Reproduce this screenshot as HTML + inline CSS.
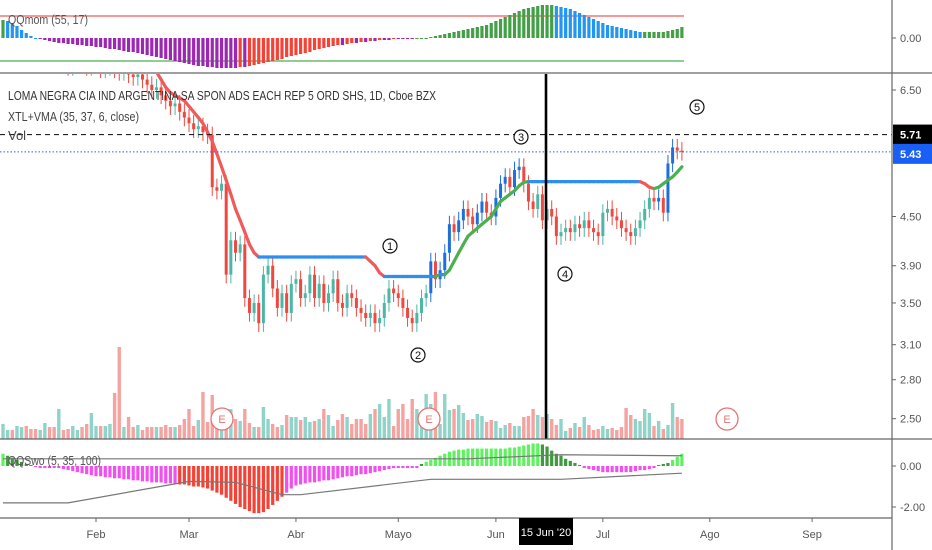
<!DOCTYPE html>
<html><head><meta charset="utf-8">
<style>
html,body{margin:0;padding:0;background:#fff;}
#wrap{position:relative;width:932px;height:550px;overflow:hidden;font-family:"Liberation Sans",sans-serif;}
svg text{font-family:"Liberation Sans",sans-serif;}
</style></head>
<body>
<div id="wrap">
<svg id="chart" width="932" height="550" xmlns="http://www.w3.org/2000/svg">
  <rect x="0" y="0" width="932" height="550" fill="#ffffff"/>
  <g id="momPane"></g>
  <g id="mainPane"></g>
  <g id="oscPane"></g>
  <g id="axes"></g>
</svg>
</div>
<script>
// ---- data ----
const closes = [7.2,7.3,7.1,7.2,7.3,7.2,7.1,7.0,7.1,7.2,7.1,7.0,7.1,7.0,6.95,7.0,7.1,7.0,6.95,7.0,
7.0,6.9,6.95,7.0,6.9,6.85,6.9,6.8,6.75,6.8,
6.7,6.6,6.5,6.55,6.4,6.3,6.2,6.25,6.1,6.0,
5.9,5.8,5.85,5.75,5.7,
4.9,4.85,4.95,3.8,4.2,4.05,4.15,3.55,3.4,3.5,3.3,3.8,3.9,3.65,3.45,3.6,3.4,3.7,3.75,3.55,3.6,3.8,3.55,3.7,3.5,3.6,3.75,3.5,3.45,3.6,3.55,3.45,3.4,3.35,3.4,3.3,3.35,3.5,3.65,3.6,3.55,3.45,3.35,3.3,3.4,3.55,3.6,3.95,3.75,3.85,4.05,4.4,4.3,4.45,4.6,4.5,4.4,4.55,4.7,4.55,4.5,4.75,4.95,5.05,4.9,5.15,5.2,4.95,4.7,4.6,4.8,4.45,4.6,4.5,4.25,4.3,4.35,4.3,4.4,4.35,4.45,4.35,4.3,4.25,4.55,4.6,4.5,4.45,4.35,4.3,4.25,4.35,4.45,4.6,4.75,4.7,4.75,4.55,5.25,5.5,5.45,5.43];

const trailStart = 32;
const trail = [6.95,6.85,6.7,6.55,6.45,6.4,6.35,6.3,6.2,6.1,6.0,5.9,5.75,5.6,5.4,5.2,5.0,4.8,4.6,4.45,4.3,4.15,4.05,
4.0,4.0,4.0,4.0,4.0,4.0,4.0,4.0,4.0,4.0,4.0,4.0,4.0,4.0,4.0,4.0,4.0,4.0,4.0,4.0,4.0,4.0,4.0,
4.0,3.95,3.9,3.82,3.78,
3.78,3.78,3.78,3.78,3.78,3.78,3.78,3.78,3.78,3.78,3.78,
3.8,3.8,3.85,3.95,4.05,4.15,4.25,4.3,4.35,4.4,4.45,4.5,4.6,4.7,4.75,4.8,4.85,4.92,4.97,
4.98,4.98,4.98,4.98,4.98,4.98,4.98,4.98,4.98,4.98,4.98,4.98,4.98,4.98,4.98,4.98,4.98,4.98,4.98,4.98,4.98,4.98,4.98,4.98,4.98,
4.95,4.9,4.88,4.9,
4.95,5.0,5.05,5.12,5.2];

const volumes = [15,9,9,13,12,13,10,10,9,16,12,12,30,9,10,13,9,12,15,26,13,
13,13,15,46,92,12,22,12,14,9,12,12,12,12,14,12,12,14,20,30,
13,19,47,17,44,20,14,15,30,20,18,30,16,12,12,32,20,15,12,14,
24,22,22,19,22,17,18,20,30,24,13,19,25,22,15,20,20,15,25,30,
35,22,40,13,30,35,20,40,30,20,45,35,47,15,45,29,30,34,26,19,
20,25,23,17,19,18,11,14,16,13,13,22,23,30,24,22,25,20,14,20,
8,11,16,12,22,14,9,10,13,10,11,9,12,31,24,20,18,30,26,13,18,10,14,36,22,20];

const momentum = [18,17,15,12,8,5,
2,0,-1,-2,-3,
-4,-5,-5,-6,-6,-7,-7,-8,-8,-9,-9,-10,-11,-11,-12,-13,-14,-14,-15,-16,-17,-18,-19,-20,-21,-22,-23,-24,-25,-26,-27,-28,-28,-29,-29,-30,-30,-30,-30,
-30,-29,-29,-28,-27,-26,-25,-24,-23,-22,-21,-19,-18,-17,-16,-15,-14,-12,-11,-10,-9,-8,-7,-7,-6,-5,-5,-4,-4,-3,-3,
-2,-2,-2,-1,-1,-1,-1,-1,0,0,0,1,
2,3,4,5,6,7,8,9,10,11,12,13,15,17,19,21,23,25,27,29,30,31,32,33,33,
33,32,31,30,29,27,25,23,21,19,17,15,13,12,11,10,9,8,7,6,6,6,6,6,6,7,8,9,11];

const osc = [0.6,0.5,0.4,0.3,0.2,0.1,0.05,-0.05,-0.1,-0.1,-0.1,-0.1,-0.1,-0.15,-0.2,
-0.25,-0.3,-0.35,-0.4,-0.45,-0.5,-0.5,-0.55,-0.55,-0.6,-0.6,-0.65,-0.65,-0.7,-0.7,-0.75,-0.75,-0.8,-0.8,-0.8,-0.85,-0.85,-0.85,-0.9,-0.9,
-0.95,-1.0,-1.0,-1.05,-1.1,-1.2,-1.3,-1.4,-1.55,-1.7,-1.85,-2.0,-2.1,-2.2,-2.3,-2.3,-2.25,
-2.1,-1.9,-1.7,-1.5,-1.3,-1.1,-0.95,-0.9,
-0.85,-0.8,-0.8,-0.75,-0.7,-0.7,-0.65,-0.6,-0.55,-0.5,-0.5,-0.45,-0.4,-0.4,-0.35,-0.3,-0.25,-0.2,-0.15,-0.1,-0.1,-0.1,-0.1,-0.1,-0.1,
0.1,0.2,0.3,0.4,
0.5,0.6,0.7,0.75,0.8,0.8,0.85,0.85,0.85,0.85,0.85,0.85,0.85,0.85,0.85,0.9,0.9,0.95,1.0,1.05,1.1,1.1,1.05,0.95,
0.75,0.6,0.5,0.35,0.25,0.15,0.05,
-0.1,-0.15,-0.2,-0.25,-0.3,-0.3,-0.3,-0.3,-0.3,-0.3,-0.3,-0.25,-0.2,-0.2,-0.15,-0.1,
0.05,0.1,0.15,0.3,0.45,0.6];

const oscUpperIdx = [0,100,120,146];
const oscUpperVal = [0.35,0.35,0.55,0.5];
const oscLowerIdx = [0,14,40,50,60,64,92,120,146];
const oscLowerVal = [-1.8,-1.8,-0.75,-0.8,-1.4,-1.4,-0.65,-0.65,-0.35];

const priceTicks = [6.50,4.50,3.90,3.50,3.10,2.80,2.50];
const monthLabels = ["Feb","Mar","Abr","Mayo","Jun","Jul","Ago","Sep"];
const monthBars = [20,40,63,85,106,129,152,174];

// ---- scales ----
const NS='http://www.w3.org/2000/svg';
const xBar = i => 3 + i*4.65;
const yPrice = p => 90 + (Math.log(6.5) - Math.log(p))*344;
const yMom = v => 38 - v;
const yOsc = v => 466 - v*20.5;
const yVol = v => 439 - v;

function mk(tag, attrs, parent){
  const el=document.createElementNS(NS,tag);
  for(const k in attrs) el.setAttribute(k,attrs[k]);
  parent.appendChild(el); return el;
}
function interp(ix,vals,i){
  for(let k=1;k<ix.length;k++){ if(i<=ix[k]){const f=(i-ix[k-1])/(ix[k]-ix[k-1]); return vals[k-1]+f*(vals[k]-vals[k-1]);} }
  return vals[vals.length-1];
}
const mom=document.getElementById('momPane');
const main=document.getElementById('mainPane');
const oscG=document.getElementById('oscPane');
const axes=document.getElementById('axes');

const defs=mk('defs',{},document.getElementById('chart'));
const cp=mk('clipPath',{id:'mainClip'},defs); mk('rect',{x:0,y:74,width:892,height:365},cp);
main.setAttribute('clip-path','url(#mainClip)');

// ---- momentum pane ----
let l=mk('line',{x1:0,x2:684,y1:16,y2:16,stroke:'#f05a5a','stroke-width':1.2},mom);
 
l=mk('line',{x1:0,x2:684,y1:61,y2:61,stroke:'#4caf50','stroke-width':1.2},mom);
 
momentum.forEach((v,i)=>{
  const prev = i>0?momentum[i-1]:v;
  let col;
  if(v>=0) col = v>=prev ? '#43a047' : '#2196f3';
  else col = v<=prev ? '#9c27b0' : '#f44336';
  const y0=yMom(0), y1=yMom(v);
  const r=mk('rect',{x:xBar(i)-1.6,y:Math.min(y0,y1),width:3.2,height:Math.max(1,Math.abs(y1-y0)),fill:col},mom);
   
});
let t=mk('text',{x:8,y:24,'font-size':13,fill:'#555',textLength:80,lengthAdjust:'spacingAndGlyphs'},mom); t.textContent='QQmom (55, 17)';
 

// ---- main pane: volume ----
volumes.forEach((v,i)=>{
  const up = i===0 ? true : closes[i]>=closes[i-1];
  const r=mk('rect',{x:xBar(i)-1.7,y:yVol(v),width:3.4,height:v,fill: up?'#8fd3c9':'#f5a3a0'},main);
   
});
// candles
closes.forEach((c,i)=>{
  const o = i===0 ? c : closes[i-1];
  const up = c>=o;
  const hi = Math.max(o,c)*1.025, lo=Math.min(o,c)*0.975;
  const col = up ? (i>=92 && i<=112 || i>=141 ? '#1e6fd9' : '#4db6a6') : '#f0473e';
  const x=xBar(i);
  const w=mk('line',{x1:x,x2:x,y1:yPrice(hi),y2:yPrice(lo),stroke:col,'stroke-width':1},main);
   
  const yt=yPrice(Math.max(o,c)), yb=yPrice(Math.min(o,c));
  const b=mk('rect',{x:x-1.5,y:yt,width:3,height:Math.max(1,yb-yt),fill:col},main);
   
});
// trail line
for(let k=1;k<trail.length;k++){
  const a=trail[k-1], b=trail[k];
  const col = Math.abs(b-a)<0.005 ? '#2f8ff0' : (b<a ? '#f05a5a' : '#4caf50');
  const s=mk('line',{x1:xBar(trailStart+k-1),y1:yPrice(a),x2:xBar(trailStart+k),y2:yPrice(b),stroke:col,'stroke-width':3.2,'stroke-linecap':'round'},main);
   
}
// price lines
l=mk('line',{x1:0,x2:892,y1:yPrice(5.71),y2:yPrice(5.71),stroke:'#222','stroke-width':1.2,'stroke-dasharray':'5,4'},main);
 
l=mk('line',{x1:0,x2:892,y1:yPrice(5.43),y2:yPrice(5.43),stroke:'#2962ff','stroke-width':1,'stroke-dasharray':'1.5,2'},main);
 
// vertical marker
l=mk('line',{x1:546,x2:546,y1:73,y2:439,stroke:'#000','stroke-width':2.6},main);
 
// circled numbers
[['1',390,246],['2',418,355],['3',521,137],['4',565,274],['5',697,107]].forEach(([n,x,y])=>{
  const g=mk('g',{},main);
   
  mk('circle',{cx:x,cy:y,r:7,fill:'#fff',stroke:'#111','stroke-width':1.2},g);
  const tx=mk('text',{x:x,y:y+4,'font-size':11,'text-anchor':'middle',fill:'#111'},g); tx.textContent=n;
});
// earnings markers
[222,429,727].forEach(x=>{
  const g=mk('g',{},main);
   
  mk('circle',{cx:x,cy:419,r:11,fill:'#fff',stroke:'#e57373','stroke-width':1.3},g);
  const tx=mk('text',{x:x,y:423,'font-size':11,'text-anchor':'middle',fill:'#e57373'},g); tx.textContent='E';
});
t=mk('text',{x:8,y:100,'font-size':13,fill:'#333',textLength:428,lengthAdjust:'spacingAndGlyphs'},axes); t.textContent='LOMA NEGRA CIA IND ARGENTINA SA SPON ADS EACH REP 5 ORD SHS, 1D, Cboe BZX';
 
t=mk('text',{x:8,y:121,'font-size':13,fill:'#444',textLength:131,lengthAdjust:'spacingAndGlyphs'},axes); t.textContent='XTL+VMA (35, 37, 6, close)';
 
t=mk('text',{x:8,y:140,'font-size':13,fill:'#444'},axes); t.textContent='Vol';
 

// ---- oscillator pane ----
osc.forEach((v,i)=>{
  const lo=interp(oscLowerIdx,oscLowerVal,i), upv=interp(oscUpperIdx,oscUpperVal,i);
  let col;
  if(v>upv*0.3 && v>0 && (i===0 || v>=osc[i-1])) col='#5ef25e';
  else if(v>0) col='#3f9a3f';
  else if(v<lo) col='#f44336';
  else col='#f050f0';
  const y0=yOsc(0), y1=yOsc(v);
  const r=mk('rect',{x:xBar(i)-1.6,y:Math.min(y0,y1),width:3.2,height:Math.max(1,Math.abs(y1-y0)),fill:col},oscG);
   
});
let pu=oscUpperIdx.map((ix,k)=>xBar(ix)+','+yOsc(oscUpperVal[k])).join(' ');
l=mk('polyline',{points:pu,fill:'none',stroke:'#777','stroke-width':1.2},oscG);
 
let pl=oscLowerIdx.map((ix,k)=>xBar(ix)+','+yOsc(oscLowerVal[k])).join(' ');
l=mk('polyline',{points:pl,fill:'none',stroke:'#777','stroke-width':1.2},oscG);
 
t=mk('text',{x:8,y:465,'font-size':13,fill:'#555',textLength:93,lengthAdjust:'spacingAndGlyphs'},oscG); t.textContent='QQSwo (5, 35, 100)';
 

// ---- separators & axes ----
[[0,73,932,73],[0,439,932,439],[0,518,892,518],[892,0,892,550]].forEach(([a,b,c,d])=>{
  const s=mk('line',{x1:a,y1:b,x2:c,y2:d,stroke:'#666','stroke-width':1.2},axes);
   
});
function ylabel(txt,y,name){
  mk('line',{x1:892,x2:896,y1:y,y2:y,stroke:'#666'},axes);
  const tt=mk('text',{x:900,y:y+4,'font-size':11,fill:'#555'},axes); tt.textContent=txt;
   
}
ylabel('0.00',38,'momentum-axis-label');
priceTicks.forEach(p=>ylabel(p.toFixed(2),yPrice(p),'price-axis-label'));
ylabel('0.00',yOsc(0),'osc-axis-label');
ylabel('-2.00',yOsc(-2),'osc-axis-label');
let bg=mk('rect',{x:893,y:yPrice(5.71)-10,width:39,height:20,fill:'#000'},axes);
 
t=mk('text',{x:900,y:yPrice(5.71)+4,'font-size':11,'font-weight':'bold',fill:'#fff'},axes); t.textContent='5.71';
bg=mk('rect',{x:893,y:yPrice(5.43)-8,width:39,height:20,fill:'#1a5ff5'},axes);
 
t=mk('text',{x:900,y:yPrice(5.43)+6,'font-size':11,'font-weight':'bold',fill:'#fff'},axes); t.textContent='5.43';
monthLabels.forEach((m,k)=>{
  const x=xBar(monthBars[k]);
  mk('line',{x1:x,x2:x,y1:518,y2:522,stroke:'#666'},axes);
  const tt=mk('text',{x:x,y:538,'font-size':11,'text-anchor':'middle',fill:'#555'},axes); tt.textContent=m;
   
});
bg=mk('rect',{x:519,y:518,width:54,height:27,fill:'#000'},axes);
 
t=mk('text',{x:546,y:536,'font-size':11,'text-anchor':'middle',fill:'#fff'},axes); t.textContent="15 Jun '20";
</script>
</body></html>
